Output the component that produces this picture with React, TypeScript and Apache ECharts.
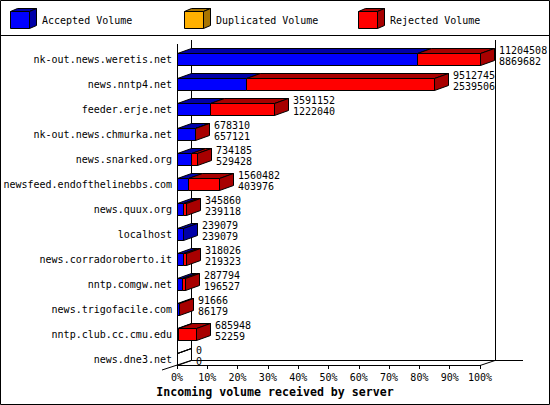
import React, { useEffect, useRef } from 'react';
import * as echarts from 'echarts';

// servers, top to bottom
const servers = [
  'nk-out.news.weretis.net',
  'news.nntp4.net',
  'feeder.erje.net',
  'nk-out.news.chmurka.net',
  'news.snarked.org',
  'newsfeed.endofthelinebbs.com',
  'news.quux.org',
  'localhost',
  'news.corradoroberto.it',
  'nntp.comgw.net',
  'news.trigofacile.com',
  'nntp.club.cc.cmu.edu',
  'news.dne3.net',
];

const accepted = [8869682, 2539506, 1222040, 657121, 529428, 403976, 239118, 239079, 219323, 196527, 86179, 52259, 0];
const duplicated = [0, 0, 0, 0, 0, 0, 0, 0, 0, 0, 0, 0, 0];
const rejected = [2334826, 6973239, 2369112, 21189, 204757, 1156506, 106742, 0, 98703, 91267, 5487, 633689, 0];

const seriesNames = ['Accepted Volume', 'Duplicated Volume', 'Rejected Volume'];
const titleText = 'Incoming volume received by server';

const FONT = 'DejaVu Sans Mono';
const colors = [
  { front: '#0000ff', dark: '#0000a8' },
  { front: '#ffb000', dark: '#a87400' },
  { front: '#ff0000', dark: '#a80000' },
];

// 3d depth
const DX = 14;
const DY = -5;

const GRID_LEFT = 177;
const GRID_RIGHT_X = 480;
const GRID_TOP = 46.5;
const GRID_H = 325;
const FLOOR_Y = 365;

const totals = servers.map((_, i) => accepted[i] + duplicated[i] + rejected[i]);
const maxTotal = Math.max(...totals);
const pct = (v: number) => (v / maxTotal) * 100;

const App: React.FC = () => {
  const chartRef = useRef<HTMLDivElement>(null);

  useEffect(() => {
    const chart = echarts.init(chartRef.current!, null, { renderer: 'svg' });

    const stacks = [accepted, duplicated, rejected];

    const segData = stacks.map((vals, si) =>
      vals.map((v, i) => {
        let start = 0;
        for (let k = 0; k < si; k++) start += stacks[k][i];
        const end = start + v;
        // which segment owns the side face
        let lastIdx = 0;
        for (let k = 0; k < stacks.length; k++) if (stacks[k][i] > 0) lastIdx = k;
        const draw = v > 0 || (si === 0 && totals[i] === 0) ? 1 : 0;
        return [pct(start), pct(end), i, si === lastIdx ? 1 : 0, draw];
      })
    );

    const renderSeg = (si: number) => (params: any, api: any) => {
      if (!api.value(4)) return null;
      const cat = api.value(2);
      const p0 = api.coord([api.value(0), cat]);
      const p1 = api.coord([api.value(1), cat]);
      const h = api.size([0, 1])[1] * 0.48;
      const x0 = Math.round(p0[0]) + 0.5;
      const x1 = Math.round(p1[0]) + 0.5;
      const y0 = Math.round(p0[1] - h / 2) + 0.5;
      const y1 = y0 + Math.round(h);
      const c = colors[si];
      // a zero row is drawn as an outline only
      const empty = api.value(1) === api.value(0);
      const stroke = { stroke: '#000', lineWidth: 1 };
      const children: any[] = [
        {
          type: 'polygon',
          shape: { points: [[x0, y0], [x0 + DX, y0 + DY], [x1 + DX, y0 + DY], [x1, y0]] },
          style: { fill: empty ? 'none' : c.dark, ...stroke },
        },
        {
          type: 'rect',
          shape: { x: x0, y: y0, width: x1 - x0, height: y1 - y0 },
          style: { fill: empty ? 'none' : c.front, ...stroke },
        },
      ];
      if (api.value(3)) {
        children.push({
          type: 'polygon',
          shape: { points: [[x1, y0], [x1 + DX, y0 + DY], [x1 + DX, y1 + DY], [x1, y1]] },
          style: { fill: empty ? 'none' : c.dark, ...stroke },
        });
      }
      return { type: 'group', children };
    };

    const labelData = servers.map((_, i) => [pct(totals[i]), i, totals[i], accepted[i]]);

    const legendGraphics: any[] = [];
    seriesNames.forEach((name, i) => {
      const lx = [10, 184, 358][i];
      const c = colors[i];
      const x0 = lx + 0.5, y0 = 11.5, x1 = lx + 19.5, y1 = 28.5;
      legendGraphics.push(
        {
          type: 'polygon',
          shape: { points: [[x0, y0], [x0 + 7, y0 - 3], [x1 + 7, y0 - 3], [x1, y0]] },
          style: { fill: c.dark, stroke: '#000', lineWidth: 1 },
        },
        {
          type: 'polygon',
          shape: { points: [[x1, y0], [x1 + 7, y0 - 3], [x1 + 7, y1 - 3], [x1, y1]] },
          style: { fill: c.dark, stroke: '#000', lineWidth: 1 },
        },
        {
          type: 'rect',
          shape: { x: x0, y: y0, width: x1 - x0, height: y1 - y0 },
          style: { fill: c.front, stroke: '#000', lineWidth: 1 },
        },
        {
          type: 'text',
          x: lx + 32,
          y: 20,
          style: { text: name, font: `10px "${FONT}"`, fill: '#000', verticalAlign: 'middle' },
        }
      );
    });

    const line = (x1: number, y1: number, x2: number, y2: number) => ({
      type: 'line',
      silent: true,
      z: -1,
      shape: { x1, y1, x2, y2 },
      style: { stroke: '#000', lineWidth: 1 },
    });

    const options = {
      animation: false,
      backgroundColor: '#fff',
      grid: { left: GRID_LEFT, right: 550 - GRID_RIGHT_X, top: GRID_TOP, height: GRID_H },
      xAxis: {
        type: 'value',
        min: 0,
        max: 100,
        interval: 10,
        offset: FLOOR_Y - (GRID_TOP + GRID_H),
        axisLine: { show: true, lineStyle: { color: '#000', width: 1 } },
        axisTick: { show: true, length: 4, lineStyle: { color: '#000' } },
        axisLabel: { formatter: '{value}%', color: '#000', fontFamily: FONT, fontSize: 10, margin: 7 },
        splitLine: { show: false },
      },
      yAxis: {
        type: 'category',
        inverse: true,
        data: servers,
        axisLine: { show: false },
        axisTick: { show: false },
        axisLabel: { color: '#000', fontFamily: FONT, fontSize: 10, margin: 5 },
      },
      graphic: [
        {
          type: 'rect',
          silent: true,
          z: -2,
          shape: { x: 0.5, y: 0.5, width: 549, height: 404 },
          style: { fill: 'none', stroke: '#000', lineWidth: 1 },
        },
        line(0, 35.5, 550, 35.5),
        // walls and floor
        line(GRID_LEFT + 0.5, 44, GRID_LEFT + 0.5, 368),
        line(GRID_LEFT + DX + 0.5, 40, GRID_LEFT + DX + 0.5, FLOOR_Y + DY + 0.5),
        line(GRID_RIGHT_X + DX + 1.5, 40, GRID_RIGHT_X + DX + 1.5, FLOOR_Y + DY + 0.5),
        line(GRID_LEFT + DX, FLOOR_Y + DY + 0.5, 523, FLOOR_Y + DY + 0.5),
        line(GRID_RIGHT_X, FLOOR_Y + 0.5, GRID_RIGHT_X + DX + 1, FLOOR_Y + DY + 0.5),
        line(162, 370, GRID_LEFT + DX, FLOOR_Y + DY + 0.5),
        ...legendGraphics,
        {
          type: 'text',
          x: 275,
          y: 392,
          style: {
            text: titleText,
            font: `bold 11.6px "${FONT}"`,
            fill: '#000',
            align: 'center',
            verticalAlign: 'middle',
          },
        },
      ],
      series: [
        ...seriesNames.map((name, si) => ({
          name,
          type: 'custom',
          renderItem: renderSeg(si),
          encode: { x: [0, 1], y: 2 },
          data: segData[si],
          z: 2,
        })),
        {
          type: 'custom',
          name: 'labels',
          renderItem: (params: any, api: any) => {
            const p = api.coord([api.value(0), api.value(1)]);
            return {
              type: 'text',
              x: Math.round(p[0]) + DX + 5,
              y: p[1] - 3.5,
              style: {
                text: `${api.value(2)}\n${api.value(3)}`,
                font: `10px "${FONT}"`,
                lineHeight: 11,
                fill: '#000',
                verticalAlign: 'middle',
              },
            };
          },
          encode: { x: 0, y: 1 },
          data: labelData,
          z: 3,
        },
      ],
    };

    chart.setOption(options as any);

    return () => {
      chart.dispose();
    };
  }, []);

  return (
    <div
      ref={chartRef}
      style={{ position: 'fixed', left: 0, top: 0, width: '550px', height: '405px' }}
    />
  );
};

export default App;
